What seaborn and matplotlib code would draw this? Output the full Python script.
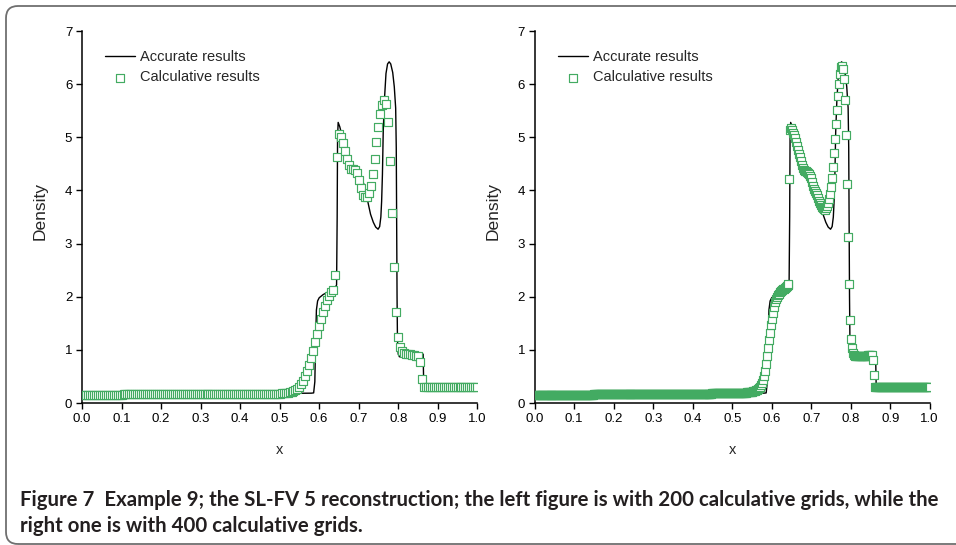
import numpy as np
import pandas as pd
import matplotlib
matplotlib.use("Agg")
import matplotlib.pyplot as plt
import seaborn as sns
from matplotlib import font_manager as fm
from matplotlib.patches import FancyBboxPatch
from matplotlib.transforms import IdentityTransform

# ---------------- data ----------------
# accurate (reference) solution: breakpoints of the black curve
acc_x = [0.0, 0.30, 0.50, 0.580, 0.586, 0.589, 0.591, 0.593, 0.596, 0.600,
         0.610, 0.620, 0.630, 0.640, 0.644, 0.6455, 0.6465, 0.648, 0.652, 0.660,
         0.668, 0.675, 0.682, 0.690, 0.700, 0.710, 0.716, 0.720, 0.725, 0.730,
         0.737, 0.743, 0.749, 0.753, 0.756, 0.758, 0.760, 0.762, 0.765, 0.769,
         0.773, 0.777, 0.781, 0.786, 0.790, 0.7935, 0.795, 0.796, 0.797, 0.798,
         0.800, 0.803, 0.810, 0.830, 0.850, 0.863, 0.8638, 0.8645, 0.870, 1.0]
acc_y = [0.16, 0.17, 0.18, 0.185, 0.19, 0.40, 1.20, 1.75, 1.92, 1.98,
         2.04, 2.08, 2.12, 2.17, 2.22, 3.50, 5.00, 5.28, 5.20, 4.97,
         4.72, 4.52, 4.38, 4.32, 4.28, 4.18, 4.05, 3.90, 3.72, 3.55,
         3.40, 3.31, 3.27, 3.32, 3.50, 3.80, 4.30, 5.10, 5.70, 6.20,
         6.38, 6.42, 6.38, 6.22, 5.95, 5.55, 4.80, 3.40, 2.00, 1.20,
         0.92, 0.87, 0.87, 0.88, 0.90, 0.92, 0.60, 0.32, 0.31, 0.30]

# calculative results, 200 grids (dx = 0.005, x = 0 ... 1)
dx_200 = 0.005
calc_200 = [
    0.15, 0.15, 0.15, 0.15, 0.15, 0.15, 0.15, 0.15, 0.15, 0.15,
    0.15, 0.15, 0.15, 0.15, 0.15, 0.15, 0.15, 0.15, 0.15, 0.15, 0.15,
    0.16, 0.16, 0.16, 0.16, 0.16, 0.16, 0.16, 0.16, 0.16, 0.16,
    0.16, 0.16, 0.16, 0.16, 0.16, 0.16, 0.16, 0.16, 0.16, 0.16,
    0.16, 0.16, 0.16, 0.16, 0.16, 0.16, 0.16, 0.16, 0.16, 0.16,
    0.16, 0.16, 0.16, 0.16, 0.16, 0.16, 0.16, 0.16, 0.16, 0.16,
    0.17, 0.17, 0.17, 0.17, 0.17, 0.17, 0.17, 0.17, 0.17, 0.17,
    0.17, 0.17, 0.17, 0.17, 0.17, 0.17, 0.17, 0.17, 0.17, 0.17,
    0.17, 0.17, 0.17, 0.17, 0.17, 0.17, 0.17, 0.17, 0.17, 0.17,
    0.17, 0.17, 0.17, 0.17, 0.17, 0.17, 0.17, 0.17, 0.17, 0.17,
    0.18, 0.18, 0.185, 0.19, 0.20, 0.21, 0.22, 0.24, 0.26, 0.30,
    0.36, 0.42, 0.50, 0.61, 0.72, 0.84, 0.98, 1.14, 1.29, 1.45,
    1.59, 1.71, 1.83, 1.94, 2.01, 2.08, 2.13, 2.40, 4.62, 5.07,
    5.01, 4.89, 4.75, 4.60, 4.47, 4.40, 4.40, 4.38, 4.32, 4.20,
    4.04, 3.91, 3.87, 3.88, 3.95, 4.09, 4.31, 4.60, 4.91, 5.19,
    5.43, 5.61, 5.71, 5.63, 5.28, 4.56, 3.57, 2.55, 1.71, 1.24,
    1.05, 0.97, 0.94, 0.93, 0.92, 0.92, 0.91, 0.90, 0.89, 0.88,
    0.78, 0.45, 0.31,
    0.30, 0.30, 0.30, 0.30, 0.30, 0.30, 0.30, 0.30, 0.30, 0.30,
    0.30, 0.30, 0.30, 0.30, 0.30, 0.30, 0.30, 0.30, 0.30, 0.30,
    0.30, 0.30, 0.30, 0.30, 0.30, 0.30, 0.30]

# calculative results, 400 grids (dx = 0.0025, x = 0 ... 1)
dx_400 = 0.0025
calc_400 = [
    0.15, 0.15, 0.15, 0.15, 0.15, 0.15, 0.15, 0.15, 0.15, 0.15,
    0.15, 0.15, 0.15, 0.15, 0.15, 0.15, 0.15, 0.15, 0.15, 0.15,
    0.15, 0.15, 0.15, 0.15, 0.15, 0.15, 0.15, 0.15, 0.15, 0.15,
    0.15, 0.15, 0.15, 0.15, 0.15, 0.15, 0.15, 0.15, 0.15, 0.15,
    0.15, 0.15, 0.15, 0.15, 0.15, 0.15, 0.15, 0.15, 0.15, 0.15,
    0.15, 0.15, 0.15, 0.15, 0.15, 0.15, 0.15, 0.15, 0.15, 0.15,
    0.16, 0.16, 0.16, 0.16, 0.16, 0.16, 0.16, 0.16, 0.16, 0.16,
    0.16, 0.16, 0.16, 0.16, 0.16, 0.16, 0.16, 0.16, 0.16, 0.16,
    0.16, 0.16, 0.16, 0.16, 0.16, 0.16, 0.16, 0.16, 0.16, 0.16,
    0.16, 0.16, 0.16, 0.16, 0.16, 0.16, 0.16, 0.16, 0.16, 0.16,
    0.16, 0.16, 0.16, 0.16, 0.16, 0.16, 0.16, 0.16, 0.16, 0.16,
    0.16, 0.16, 0.16, 0.16, 0.16, 0.16, 0.16, 0.16, 0.16, 0.16,
    0.17, 0.17, 0.17, 0.17, 0.17, 0.17, 0.17, 0.17, 0.17, 0.17,
    0.17, 0.17, 0.17, 0.17, 0.17, 0.17, 0.17, 0.17, 0.17, 0.17,
    0.17, 0.17, 0.17, 0.17, 0.17, 0.17, 0.17, 0.17, 0.17, 0.17,
    0.17, 0.17, 0.17, 0.17, 0.17, 0.17, 0.17, 0.17, 0.17, 0.17,
    0.17, 0.17, 0.17, 0.17, 0.17, 0.17, 0.17, 0.17, 0.17, 0.17,
    0.17, 0.17, 0.17, 0.17, 0.17, 0.17, 0.17, 0.17, 0.17, 0.17,
    0.18, 0.18, 0.18, 0.18, 0.18, 0.18, 0.18, 0.18, 0.18, 0.18,
    0.18, 0.18, 0.18, 0.18, 0.18, 0.18, 0.18, 0.18, 0.18, 0.18,
    0.18, 0.18, 0.18, 0.18, 0.18, 0.18, 0.18, 0.18, 0.18, 0.18,
    0.185, 0.19, 0.19, 0.19, 0.195, 0.20, 0.20, 0.205, 0.21, 0.21,
    0.215, 0.22, 0.225, 0.23, 0.24, 0.25, 0.26, 0.28, 0.30, 0.33,
    0.37, 0.43, 0.51, 0.61, 0.73, 0.88, 1.04, 1.19, 1.32, 1.47,
    1.59, 1.70, 1.81, 1.90, 1.96, 2.00, 2.03, 2.06, 2.08, 2.10,
    2.12, 2.14, 2.15, 2.17, 2.18, 2.20, 2.22, 2.24,
    4.22, 5.14, 5.17, 5.14, 5.09, 5.04, 4.98, 4.91, 4.83, 4.76,
    4.69, 4.62, 4.55, 4.48, 4.42, 4.39, 4.37, 4.36, 4.35, 4.33,
    4.31, 4.28, 4.23, 4.15, 4.08, 4.02, 3.98, 3.95, 3.91, 3.86,
    3.81, 3.77, 3.73, 3.69, 3.66, 3.65, 3.64, 3.66, 3.70, 3.76,
    3.84, 3.94, 4.06, 4.23, 4.45, 4.70, 4.96, 5.25, 5.51, 5.77,
    6.01, 6.20, 6.32, 6.34, 6.28, 6.09, 5.70, 5.04, 4.13, 3.13,
    2.23, 1.57, 1.20, 1.03, 0.95, 0.91, 0.89,
    0.88, 0.88, 0.88, 0.88, 0.88, 0.88, 0.88, 0.89, 0.89, 0.89,
    0.89, 0.89, 0.89, 0.90, 0.90, 0.90, 0.90,
    0.90, 0.81, 0.53, 0.31,
    0.30, 0.30, 0.30, 0.30, 0.30, 0.30, 0.30, 0.30, 0.30, 0.30,
    0.30, 0.30, 0.30, 0.30, 0.30, 0.30, 0.30, 0.30, 0.30, 0.30,
    0.30, 0.30, 0.30, 0.30, 0.30, 0.30, 0.30, 0.30, 0.30, 0.30,
    0.30, 0.30, 0.30, 0.30, 0.30, 0.30, 0.30, 0.30, 0.30, 0.30,
    0.30, 0.30, 0.30, 0.30, 0.30, 0.30, 0.30, 0.30, 0.30, 0.30,
    0.30, 0.30, 0.30, 0.30, 0.30]

x_ticks = [0.0, 0.1, 0.2, 0.3, 0.4, 0.5, 0.6, 0.7, 0.8, 0.9, 1.0]
y_ticks = [0, 1, 2, 3, 4, 5, 6, 7]
legend_labels = ["Accurate results", "Calculative results"]
caption_1 = ("Figure 7  Example 9; the SL-FV 5 reconstruction; the left figure is "
             "with 200 calculative grids, while the")
caption_2 = "right one is with 400 calculative grids."

# ---------------- style ----------------
sns.set_style("ticks")
names = {f.name for f in fm.fontManager.ttflist}
narrow = "Liberation Sans Narrow" if "Liberation Sans Narrow" in names else "Liberation Sans"
plt.rcParams["font.family"] = [narrow, "DejaVu Sans"]
cap_family = "Lato" if "Lato" in names else "DejaVu Sans"

GREEN = "#43ab62"
W, H = 956, 545
fig = plt.figure(figsize=(W / 100, H / 100), dpi=100)

def px_axes(x0, x1, ytop, ybot):
    return [x0 / W, (H - ybot) / H, (x1 - x0) / W, (ybot - ytop) / H]

axes = [fig.add_axes(px_axes(82, 477.3, 31, 403)),
        fig.add_axes(px_axes(534.7, 929.7, 31, 403))]

acc_df = pd.DataFrame({"x": acc_x, "Density": acc_y})
calc_sets = [
    pd.DataFrame({"x": np.arange(len(calc_200)) * dx_200, "Density": calc_200}),
    pd.DataFrame({"x": np.arange(len(calc_400)) * dx_400, "Density": calc_400}),
]

for ax, cdf in zip(axes, calc_sets):
    sns.lineplot(data=acc_df, x="x", y="Density", ax=ax, color="black",
                 linewidth=1.0, sort=False, estimator=None,
                 label=legend_labels[0], zorder=2)
    sns.scatterplot(data=cdf, x="x", y="Density", ax=ax, marker="s", s=30,
                    facecolor="white", edgecolor=GREEN, linewidth=0.85,
                    label=legend_labels[1], zorder=3)
    coll = ax.collections[-1]
    coll.set_facecolor("white")
    coll.set_edgecolor(GREEN)
    coll.set_linewidth(0.85)

    ax.set_xlim(0, 1)
    ax.set_ylim(0, 7)
    ax.set_xticks(x_ticks)
    ax.set_xticklabels([f"{t:.1f}" for t in x_ticks])
    ax.set_yticks(y_ticks)
    ax.set_yticklabels([str(t) for t in y_ticks])
    for s in ["top", "right"]:
        ax.spines[s].set_visible(False)
    for s in ["left", "bottom"]:
        ax.spines[s].set_linewidth(1.1)
        ax.spines[s].set_color("black")
    ax.tick_params(axis="both", direction="out", length=4, width=1.0,
                   labelsize=9.5, pad=3, colors="black")
    ax.set_xlabel("x", fontsize=10.5)
    ax.xaxis.set_label_coords(0.5, -0.108)
    ax.xaxis.label.set_va("top")
    ax.set_ylabel("Density", fontsize=12.5, family="Liberation Sans")
    ax.yaxis.set_label_coords(-0.086, 0.517)

    h, l = ax.get_legend_handles_labels()
    ax.legend(h, l, loc="upper left", bbox_to_anchor=(0.058, 0.948),
              frameon=False, fontsize=10.5, handlelength=2.05,
              handletextpad=0.35, labelspacing=0.42, borderpad=0,
              borderaxespad=0, scatterpoints=1)

# caption
t1 = fig.text(20 / W, (H - 506) / H, caption_1, family=cap_family,
              weight="bold", fontsize=12.5, color="#231f20", va="baseline")
t2 = fig.text(20 / W, (H - 532) / H, caption_2, family=cap_family,
              weight="bold", fontsize=12.5, color="#231f20", va="baseline")
fig.canvas.draw()
bb = t1.get_window_extent(fig.canvas.get_renderer())
scale = 920.0 / bb.width
t1.set_fontsize(12.5 * scale)
t2.set_fontsize(12.5 * scale)

# rounded frame
frame = FancyBboxPatch((6, 1), 1100, H - 7, boxstyle="round,pad=0,rounding_size=12",
                       transform=IdentityTransform(), fill=False,
                       edgecolor="#6f6f6f", linewidth=1.3)
fig.add_artist(frame)

fig.savefig("out.png", dpi=100)
